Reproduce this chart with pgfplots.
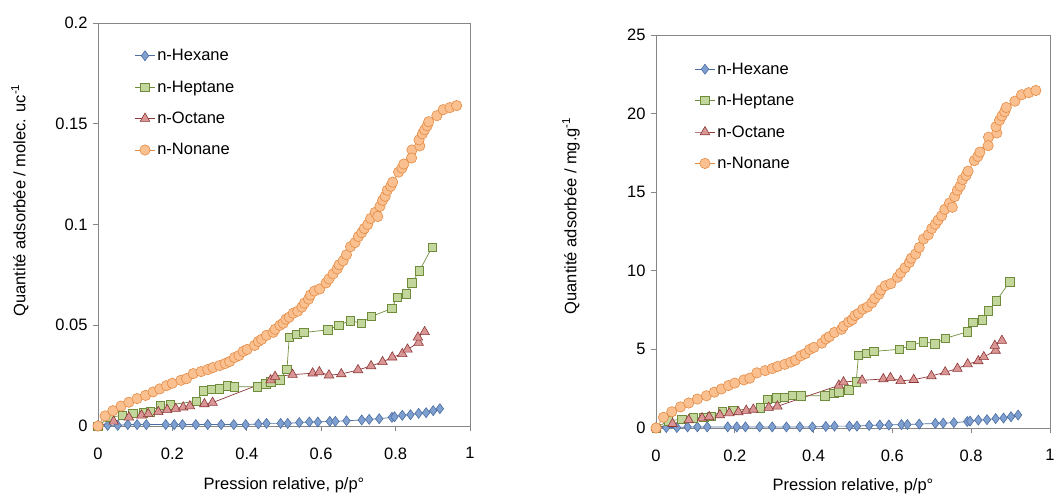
\documentclass[border=0pt]{standalone}
\usepackage{pgfplots}
\pgfplotsset{compat=1.18}
\usepackage{fontspec}
\setmainfont{Liberation Sans}
\definecolor{hexF}{RGB}{127,159,208}
\definecolor{hexL}{RGB}{74,110,160}
\definecolor{hepF}{RGB}{195,214,155}
\definecolor{hepL}{RGB}{110,140,60}
\definecolor{octF}{RGB}{217,150,148}
\definecolor{octL}{RGB}{140,55,55}
\definecolor{nonF}{RGB}{250,192,144}
\definecolor{nonL}{RGB}{228,140,70}
\definecolor{frameG}{RGB}{134,134,134}

\pgfplotstableread{
x y
0 0
0.026 0.0003
0.053 0.0003
0.080 0.0007
0.105 0.0007
0.130 0.0007
0.182 0.0007
0.205 0.0007
0.227 0.0007
0.263 0.0007
0.295 0.0007
0.331 0.0007
0.365 0.0007
0.397 0.0007
0.431 0.0010
0.453 0.0013
0.491 0.0013
0.510 0.0013
0.541 0.0017
0.568 0.0020
0.591 0.0020
0.623 0.0023
0.638 0.0023
0.668 0.0026
0.709 0.0030
0.729 0.0033
0.756 0.0036
0.790 0.0043
0.797 0.0046
0.818 0.0053
0.840 0.0056
0.862 0.0063
0.882 0.0066
0.901 0.0076
0.919 0.0086
}\hexA
\pgfplotstableread{
x y
0 0
0.031 0.0043
0.065 0.0053
0.094 0.0063
0.121 0.0066
0.141 0.0070
0.168 0.0103
0.195 0.0106
0.265 0.0123
0.283 0.0175
0.306 0.0182
0.326 0.0185
0.347 0.0199
0.367 0.0195
0.428 0.0195
0.451 0.0210
0.464 0.0220
0.489 0.0230
0.508 0.0280
0.514 0.0440
0.534 0.0454
0.553 0.0464
0.618 0.0477
0.647 0.0500
0.679 0.0523
0.708 0.0510
0.734 0.0543
0.790 0.0583
0.804 0.0640
0.828 0.0656
0.844 0.0710
0.864 0.0770
0.898 0.0887
}\hepA
\pgfplotstableread{
x y
0 0
0.042 0.0023
0.083 0.0043
0.117 0.0053
0.135 0.0060
0.162 0.0070
0.186 0.0080
0.209 0.0086
0.229 0.0093
0.247 0.0099
0.286 0.0109
0.308 0.0116
0.464 0.0228
0.476 0.0245
0.523 0.0255
0.577 0.0262
0.595 0.0268
0.621 0.0252
0.654 0.0258
0.699 0.0278
0.734 0.0298
0.765 0.0318
0.791 0.0341
0.818 0.0358
0.832 0.0380
0.862 0.0414
0.860 0.0440
0.878 0.0467
}\octA
\pgfplotstableread{
x y
0 0
0.019 0.0050
0.040 0.0076
0.062 0.0099
0.083 0.0118
0.105 0.0136
0.128 0.0152
0.148 0.0169
0.166 0.0184
0.184 0.0200
0.200 0.0212
0.223 0.0227
0.238 0.0235
0.256 0.0260
0.277 0.0270
0.295 0.0280
0.309 0.0290
0.327 0.0300
0.342 0.0310
0.354 0.0320
0.367 0.0340
0.379 0.0350
0.390 0.0370
0.401 0.0380
0.421 0.0400
0.431 0.0420
0.440 0.0430
0.453 0.0450
0.471 0.0465
0.476 0.0480
0.489 0.0500
0.498 0.0510
0.505 0.0530
0.514 0.0540
0.525 0.0560
0.537 0.0570
0.548 0.0590
0.555 0.0610
0.566 0.0630
0.571 0.0650
0.582 0.0670
0.596 0.0680
0.613 0.0710
0.621 0.0730
0.632 0.0755
0.643 0.0780
0.648 0.0800
0.659 0.0820
0.668 0.0850
0.679 0.0890
0.691 0.0910
0.700 0.0940
0.709 0.0960
0.716 0.0980
0.725 0.1000
0.733 0.1030
0.745 0.1060
0.752 0.1040
0.758 0.1090
0.765 0.1120
0.772 0.1140
0.778 0.1170
0.787 0.1190
0.792 0.1210
0.808 0.1260
0.817 0.1280
0.822 0.1300
0.844 0.1370
0.843 0.1330
0.865 0.1390
0.863 0.1420
0.872 0.1450
0.878 0.1470
0.885 0.1490
0.889 0.1510
0.911 0.1540
0.928 0.1570
0.946 0.1580
0.964 0.1590
}\nonA
\pgfplotstableread{
x y
0 0
0.026 0.03
0.053 0.03
0.080 0.07
0.105 0.07
0.130 0.07
0.182 0.07
0.205 0.07
0.227 0.07
0.263 0.07
0.295 0.07
0.331 0.07
0.365 0.07
0.397 0.07
0.431 0.10
0.453 0.12
0.491 0.12
0.510 0.12
0.541 0.16
0.568 0.19
0.591 0.19
0.623 0.22
0.638 0.22
0.668 0.25
0.709 0.29
0.729 0.31
0.756 0.34
0.790 0.41
0.797 0.44
0.818 0.50
0.840 0.53
0.862 0.60
0.882 0.63
0.901 0.72
0.919 0.82
}\hexB
\pgfplotstableread{
x y
0 0
0.031 0.45
0.065 0.56
0.094 0.66
0.121 0.69
0.141 0.74
0.168 1.08
0.195 1.11
0.265 1.29
0.283 1.84
0.306 1.91
0.326 1.94
0.347 2.09
0.367 2.05
0.428 2.05
0.451 2.21
0.464 2.31
0.489 2.42
0.508 2.94
0.514 4.62
0.534 4.77
0.553 4.87
0.618 5.01
0.647 5.25
0.679 5.49
0.708 5.36
0.734 5.70
0.790 6.12
0.804 6.72
0.828 6.89
0.844 7.46
0.864 8.09
0.898 9.31
}\hepB
\pgfplotstableread{
x y
0 0
0.042 0.27
0.083 0.51
0.117 0.63
0.135 0.71
0.162 0.83
0.186 0.95
0.209 1.02
0.229 1.11
0.247 1.18
0.286 1.30
0.308 1.38
0.464 2.71
0.476 2.92
0.523 3.03
0.577 3.12
0.595 3.19
0.621 3.00
0.654 3.07
0.699 3.31
0.734 3.55
0.765 3.78
0.791 4.06
0.818 4.26
0.832 4.52
0.862 4.93
0.860 5.24
0.878 5.56
}\octB
\pgfplotstableread{
x y
0 0
0.019 0.68
0.040 1.03
0.062 1.34
0.083 1.59
0.105 1.84
0.128 2.05
0.148 2.28
0.166 2.48
0.184 2.70
0.200 2.86
0.223 3.06
0.238 3.17
0.256 3.51
0.277 3.65
0.295 3.78
0.309 3.92
0.327 4.05
0.342 4.19
0.354 4.32
0.367 4.59
0.379 4.73
0.390 5.00
0.401 5.13
0.421 5.40
0.431 5.67
0.440 5.81
0.453 6.08
0.471 6.28
0.476 6.48
0.489 6.75
0.498 6.89
0.505 7.16
0.514 7.29
0.525 7.56
0.537 7.70
0.548 7.97
0.555 8.24
0.566 8.51
0.571 8.78
0.582 9.05
0.596 9.18
0.613 9.59
0.621 9.86
0.632 10.19
0.643 10.53
0.648 10.80
0.659 11.07
0.668 11.48
0.679 12.02
0.691 12.29
0.700 12.69
0.709 12.96
0.716 13.23
0.725 13.50
0.733 13.91
0.745 14.31
0.752 14.04
0.758 14.72
0.765 15.12
0.772 15.39
0.778 15.80
0.787 16.07
0.792 16.34
0.808 17.01
0.817 17.28
0.822 17.55
0.844 18.50
0.843 17.96
0.865 18.77
0.863 19.17
0.872 19.58
0.878 19.85
0.885 20.12
0.889 20.39
0.911 20.79
0.928 21.20
0.946 21.33
0.964 21.47
}\nonB

\pgfplotsset{
  every axis/.append style={
    scale only axis,
    font=\fontsize{16.5}{19}\selectfont,
    axis line style={frameG, line width=0.8pt},
    tick style={frameG, line width=0.8pt},
    tick align=outside,
    xtick pos=bottom, ytick pos=left,
    major tick length=5pt,
    xmin=0, xmax=1,
    xtick={0,0.2,...,1},
    xticklabel style={yshift=-13pt},
    yticklabel style={xshift=-2pt},
    /pgf/number format/assume math mode=true,
    legend cell align=left,
    legend style={draw=none, fill=none, font=\fontsize{16.5}{19}\selectfont,
      row sep=14.5pt, anchor=north west},
    legend image code/.code={
      \draw[mark repeat=2,mark phase=2] plot coordinates {(0cm,0cm) (0.35cm,0cm) (0.7cm,0cm)};},
  },
  hexs/.style={color=hexL, line width=0.7pt, mark=diamond*, mark size=5pt,
    mark options={fill=hexF, draw=hexL, line width=0.6pt}},
  heps/.style={color=hepL, line width=0.7pt, mark=square*, mark size=4.2pt,
    mark options={fill=hepF, draw=hepL, line width=0.6pt}},
  octs/.style={color=octL, line width=0.7pt, mark=triangle*, mark size=5.5pt,
    mark options={fill=octF, draw=octL, line width=0.6pt}},
  nons/.style={color=nonL, line width=0.7pt, mark=*, mark size=5.2pt,
    mark options={fill=nonF, draw=nonL, line width=0.6pt}},
}

\begin{document}
\begin{tikzpicture}
\useasboundingbox (0pt,0pt) rectangle (1058pt,496pt);
\begin{axis}[
  at={(98pt,70pt)}, anchor=south west,
  width=372pt, height=403pt,
  ymin=0, ymax=0.2,
  ytick={0,0.05,0.1,0.15,0.2},
  scaled y ticks=false,
  yticklabel style={/pgf/number format/fixed, /pgf/number format/precision=2},
  xlabel={Pression relative, p/p°},
  ylabel={Quantité adsorbée / molec. uc\textsuperscript{-1}},
  ylabel style={at={(axis description cs:-0.21,0.56)}, anchor=center},
  xlabel style={at={(axis description cs:0.5,-0.146)}, anchor=center},
  legend style={at={(axis description cs:0.09,0.945)}},
]
\addplot[hexs] table {\hexA};
\addplot[heps] table {\hepA};
\addplot[octs] table {\octA};
\addplot[nons] table {\nonA};
\legend{n-Hexane,n-Heptane,n-Octane,n-Nonane}
\end{axis}
\begin{axis}[
  at={(656pt,68pt)}, anchor=south west,
  width=394pt, height=393pt,
  ymin=0, ymax=25,
  ytick={0,5,...,25},
  xlabel={Pression relative, p/p°},
  ylabel={Quantité adsorbée / mg.g\textsuperscript{-1}},
  ylabel style={at={(axis description cs:-0.216,0.54)}, anchor=center},
  xlabel style={at={(axis description cs:0.5,-0.148)}, anchor=center},
  legend style={at={(axis description cs:0.09,0.94)}},
]
\addplot[hexs] table {\hexB};
\addplot[heps] table {\hepB};
\addplot[octs] table {\octB};
\addplot[nons] table {\nonB};
\legend{n-Hexane,n-Heptane,n-Octane,n-Nonane}
\end{axis}
\end{tikzpicture}
\end{document}
